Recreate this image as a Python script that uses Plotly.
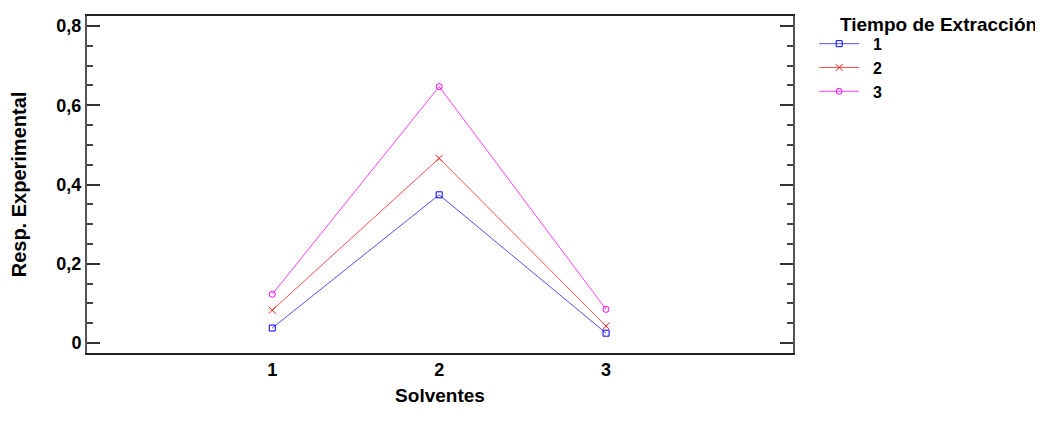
import plotly.graph_objects as go

solventes = [1, 2, 3]
serie_1 = [0.038, 0.374, 0.025]
serie_2 = [0.083, 0.466, 0.043]
serie_3 = [0.123, 0.647, 0.085]
series_names = ["1", "2", "3"]
legend_title = "Tiempo de Extracción"
y_tickvals = [0, 0.2, 0.4, 0.6, 0.8]
y_ticktext = ["0", "0,2", "0,4", "0,6", "0,8"]
x_tickvals = [1, 2, 3]
x_ticktext = ["1", "2", "3"]

FONT = "Liberation Sans, Arial, sans-serif"

styles = [
    dict(color="#5050ff", marker=dict(symbol="square-open", size=6, color="#0000ff", line=dict(width=1))),
    dict(color="#ff5050", marker=dict(symbol="x-thin-open", size=7, color="#ff2020", line=dict(width=1, color="#ff2020"))),
    dict(color="#ff40ff", marker=dict(symbol="circle-open", size=6, color="#ff00ff", line=dict(width=1))),
]

fig = go.Figure()
for name, vals, st in zip(series_names, [serie_1, serie_2, serie_3], styles):
    fig.add_trace(go.Scatter(
        x=solventes, y=vals, name="&nbsp;&nbsp;<b>%s</b>" % name, mode="lines+markers",
        line=dict(color=st["color"], width=1),
        marker=st["marker"],
    ))

fig.update_layout(
    width=1043, height=422,
    margin=dict(l=79, r=258, t=6, b=77),
    paper_bgcolor="white", plot_bgcolor="white",
    font=dict(family=FONT, size=18, color="black"),
    showlegend=True,
    legend=dict(
        x=1.03, y=0.968, xanchor="left", yanchor="top",
        font=dict(family=FONT, size=16),
        tracegroupgap=0, itemwidth=40,
        bgcolor="rgba(0,0,0,0)",
    ),
    annotations=[dict(
        text="<b>%s</b>" % legend_title, xref="paper", yref="paper",
        x=1.064, y=1.012, xanchor="left", yanchor="top", showarrow=False,
        font=dict(family=FONT, size=19, color="black"),
    )],
)

fig.update_xaxes(
    range=[-0.11, 4.12],
    tickvals=x_tickvals, ticktext=["<b>%s</b>" % t for t in x_ticktext],
    ticks="", showgrid=False, zeroline=False,
    showline=True, linecolor="#222", linewidth=1.5, mirror=True,
    tickfont=dict(family=FONT, size=18),
    title=dict(text="<b>Solventes</b>", font=dict(family=FONT, size=19), standoff=9),
)
fig.update_yaxes(
    range=[-0.025, 0.825],
    tickvals=y_tickvals, ticktext=["<b>%s</b>" % t for t in y_ticktext],
    ticks="inside", ticklen=13, tickwidth=1.5, tickcolor="#333",
    minor=dict(dtick=0.05, tick0=0, ticks="inside", ticklen=6, tickwidth=1.5, tickcolor="#444", showgrid=False),
    showgrid=False, zeroline=False,
    showline=True, linecolor="#555", linewidth=2, mirror="ticks",
    tickfont=dict(family=FONT, size=18),
    title=dict(text="<b>Resp. Experimental</b>", font=dict(family=FONT, size=20), standoff=26),
)

fig.write_html("out.html")
